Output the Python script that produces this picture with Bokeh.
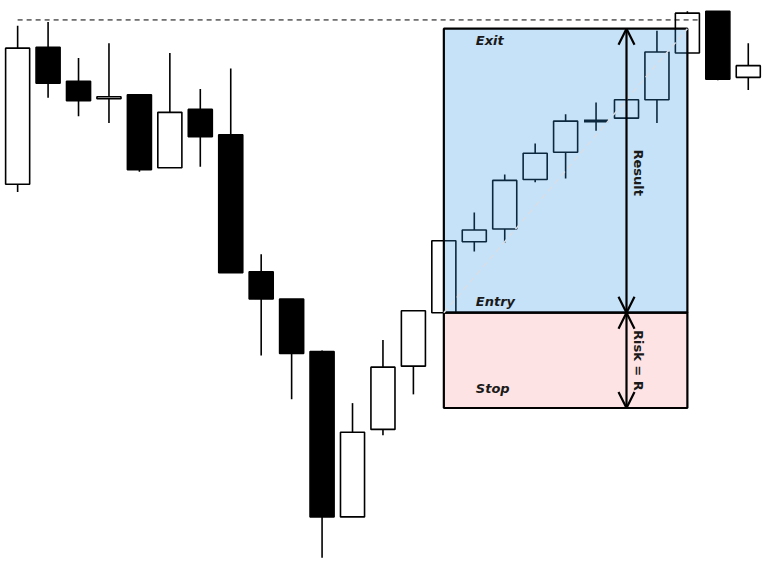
import math
from bokeh.plotting import figure
from bokeh.models import ColumnDataSource, Range1d, Arrow, OpenHead
from bokeh.core.properties import value
from bokeh.embed import file_html
from bokeh.resources import INLINE

# ---- data (price units) ----
opens  = [139.3, 153.4, 149.9, 148.1, 148.5, 141.0, 147.0, 144.4, 130.3, 127.5, 122.1, 105.1, 114.1,
          120.6, 126.1, 133.4, 134.7, 139.8, 142.6, 145.8, 146.1, 148.0, 152.8, 157.1, 150.3]
highs  = [155.6, 156.0, 152.3, 153.8, 148.5, 152.8, 149.1, 151.2, 132.1, 127.5, 122.2, 116.8, 123.3,
          126.3, 133.5, 136.4, 140.3, 143.5, 146.5, 147.7, 148.0, 155.1, 157.1, 157.1, 153.8]
lows   = [138.5, 148.2, 146.3, 145.6, 140.6, 141.0, 141.1, 130.2, 121.7, 117.2, 100.9, 105.1, 113.5,
          117.7, 126.1, 132.4, 133.3, 139.5, 139.9, 144.8, 146.1, 145.6, 152.8, 150.0, 149.0]
closes = [153.3, 149.7, 147.9, 148.3, 140.8, 146.7, 144.2, 130.2, 127.5, 121.9, 105.1, 113.8, 120.5,
          126.3, 133.5, 134.6, 139.7, 142.5, 145.8, 145.8, 148.0, 152.9, 156.9, 150.1, 151.5]

entry_price = 126.1
stop_price = 116.3
exit_price = 155.3
prior_high = 156.2
entry_bar = 14
exit_bar = 22
measure_bar = 20

n = len(opens)
idx = list(range(n))
body_w = 0.79

top = [max(o, c) for o, c in zip(opens, closes)]
bot = [min(o, c) for o, c in zip(opens, closes)]
fill = ["black" if c < o else "white" for o, c in zip(opens, closes)]
src = ColumnDataSource(dict(x=idx, high=highs, low=lows, top=top, bottom=bot, fill=fill))

doji = [i for i in idx if opens[i] == closes[i]]
dsrc = ColumnDataSource(dict(x0=[i - body_w / 2 for i in doji], x1=[i + body_w / 2 for i in doji],
                             y=[opens[i] for i in doji]))

p = figure(width=764, height=566, output_backend="svg", toolbar_location=None,
           x_range=Range1d(-0.563, 24.533), y_range=Range1d(100.0, 158.2),
           min_border=0, min_border_left=0, min_border_right=0, min_border_top=0, min_border_bottom=0)
p.xaxis.visible = False
p.yaxis.visible = False
p.grid.visible = False
p.outline_line_color = None
p.background_fill_color = "white"
p.border_fill_color = "white"

# candles
p.segment(x0="x", y0="high", x1="x", y1="low", source=src, line_color="black", line_width=1.6)
p.vbar(x="x", width=body_w, top="top", bottom="bottom", source=src,
       fill_color="fill", line_color="black", line_width=1.6)
p.segment(x0="x0", y0="y", x1="x1", y1="y", source=dsrc, line_color="black", line_width=3)

# trade boxes
p.quad(left=[entry_bar], right=[exit_bar], bottom=[stop_price], top=[entry_price],
       fill_color="#fde3e3", fill_alpha=1.0, line_color="black", line_width=2.2)
p.quad(left=[entry_bar], right=[exit_bar], bottom=[entry_price], top=[exit_price],
       fill_color="#2994e6", fill_alpha=0.27, line_color="black", line_width=2.2)

# diagonal
p.line(x=[entry_bar, exit_bar], y=[entry_price, exit_price], line_color="#d9dee6",
       line_width=1.5, line_dash="6 4")

# prior high dashed line
p.line(x=[0, exit_bar + body_w / 2], y=[prior_high, prior_high], line_color="black",
       line_width=1, line_dash="5 4")

# arrows
for target in (exit_price, stop_price):
    p.add_layout(Arrow(x_start=measure_bar, y_start=entry_price, x_end=measure_bar, y_end=target,
                       start=OpenHead(size=16, line_width=2.2, line_color="black"),
                       end=OpenHead(size=16, line_width=2.2, line_color="black"),
                       line_width=2.2, line_color="black"))

# labels
lab_x = entry_bar + 1.05
p.text(x=[lab_x, lab_x, lab_x], y=[154.1, 127.2, 118.3], text=["Exit", "Entry", "Stop"],
       text_font=value("DejaVu Sans"), text_font_style="bold italic", text_font_size="13px",
       text_color="#1a1a1a", text_align="left", text_baseline="middle")
p.text(x=[measure_bar + 0.4, measure_bar + 0.4], y=[140.5, 121.2], text=["Result", "Risk = R"],
       angle=-math.pi / 2, text_font=value("DejaVu Sans"), text_font_style="bold",
       text_font_size="13px", text_color="#1a1a1a", text_align="center", text_baseline="middle")

open("out.html", "w").write(file_html(p, INLINE))
